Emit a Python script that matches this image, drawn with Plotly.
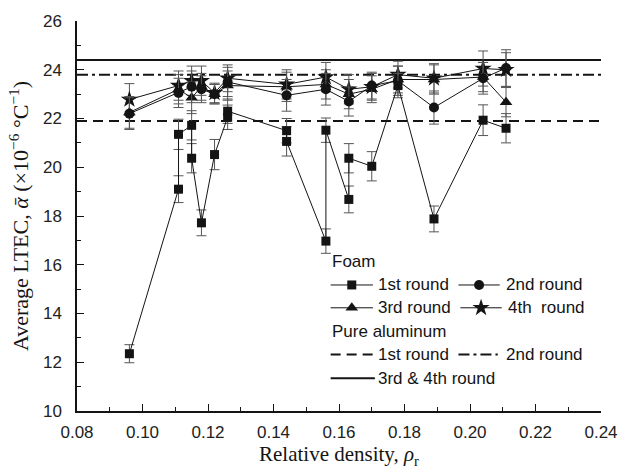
import plotly.graph_objects as go

# ---------------- data ----------------
density_1st = [0.096, 0.111, 0.111, 0.115, 0.115, 0.118, 0.122, 0.126, 0.126, 0.144,
               0.144, 0.156, 0.156, 0.163, 0.163, 0.170, 0.178, 0.189, 0.204, 0.211]
ltec_1st = [12.35, 19.10, 21.35, 21.72, 20.37, 17.72, 20.52, 22.05, 22.30, 21.50,
            21.06, 16.97, 21.52, 18.68, 20.37, 20.04, 23.35, 17.88, 21.93, 21.60]
err_1st = [0.37, 0.55, 0.62, 0.60, 0.60, 0.53, 0.62, 0.50, 0.50, 0.50,
           0.60, 0.50, 0.50, 0.55, 0.60, 0.60, 0.50, 0.53, 0.63, 0.60]

density = [0.096, 0.111, 0.115, 0.118, 0.122, 0.126, 0.144, 0.156, 0.163, 0.170,
           0.178, 0.189, 0.204, 0.211]
ltec_2nd = [22.20, 23.05, 23.30, 23.20, 23.00, 23.50, 22.95, 23.20, 22.70, 23.35,
            23.55, 22.45, 23.65, 24.07]
err_2nd = [0.65, 0.60, 0.65, 0.55, 0.40, 0.60, 0.65, 0.65, 0.60, 0.55,
           0.60, 0.68, 0.65, 0.75]
ltec_3rd = [22.25, 23.20, 22.85, 23.30, 23.00, 23.35, 23.30, 23.40, 23.00, 23.20,
            23.60, 23.60, 23.70, 22.67]
err_3rd = [0.65, 0.60, 0.65, 0.55, 0.40, 0.60, 0.60, 0.60, 0.60, 0.55,
           0.55, 0.60, 0.60, 0.60]
ltec_4th = [22.78, 23.35, 23.55, 23.55, 23.05, 23.65, 23.40, 23.70, 23.20, 23.30,
            23.80, 23.65, 24.05, 24.00]
err_4th = [0.65, 0.60, 0.60, 0.60, 0.40, 0.55, 0.60, 0.60, 0.60, 0.55,
           0.55, 0.60, 0.72, 0.70]

pure_x = [0.08, 0.24]
pure_1st = 21.9
pure_2nd = 23.8
pure_34 = 24.4

x_ticks = [0.08, 0.10, 0.12, 0.14, 0.16, 0.18, 0.20, 0.22, 0.24]
y_ticks = [10, 12, 14, 16, 18, 20, 22, 24, 26]

# ---------------- styling ----------------
INK = "#141414"
ERR = "#555555"
SANS = "Liberation Sans, Arial, sans-serif"
SERIF = "Liberation Serif, Times New Roman, serif"

fig = go.Figure()

# Pure aluminium reference lines
fig.add_trace(go.Scatter(x=pure_x, y=[pure_1st] * 2, mode="lines",
                         line=dict(color=INK, width=2, dash="10px,6px"), showlegend=False))
fig.add_trace(go.Scatter(x=pure_x, y=[pure_2nd] * 2, mode="lines",
                         line=dict(color=INK, width=2, dash="11px,4px,3px,4px"), showlegend=False))
fig.add_trace(go.Scatter(x=pure_x, y=[pure_34] * 2, mode="lines",
                         line=dict(color=INK, width=2), showlegend=False))

def foam(x, y, e, symbol, size):
    return go.Scatter(
        x=x, y=y, mode="lines+markers",
        line=dict(color=INK, width=1),
        marker=dict(symbol=symbol, size=size, color=INK, line=dict(width=0)),
        error_y=dict(type="data", array=e, visible=True, color=ERR, thickness=1, width=5),
        showlegend=False)

fig.add_trace(foam(density, ltec_4th, err_4th, "star", 13))
fig.add_trace(foam(density, ltec_3rd, err_3rd, "triangle-up", 11))
fig.add_trace(foam(density, ltec_2nd, err_2nd, "circle", 10))
fig.add_trace(foam(density_1st, ltec_1st, err_1st, "square", 9))

# ---------------- manual legend (pixel overlay axes) ----------------
def sample(x0, x1, y, dash=None, symbol=None, size=10, width=1):
    fig.add_trace(go.Scatter(x=[x0, x1], y=[y, y], mode="lines", xaxis="x2", yaxis="y2",
                             line=dict(color=INK, width=width, dash=dash),
                             showlegend=False, hoverinfo="skip"))
    if symbol:
        fig.add_trace(go.Scatter(x=[(x0 + x1) / 2], y=[y], mode="markers", xaxis="x2", yaxis="y2",
                                 marker=dict(symbol=symbol, size=size, color=INK, line=dict(width=0)),
                                 showlegend=False, hoverinfo="skip"))

def label(x, y, text):
    fig.add_annotation(x=x, y=y, xref="x2", yref="y2", text=text, showarrow=False,
                       xanchor="left", yanchor="middle",
                       font=dict(family=SANS, size=17, color=INK))

r1, r2, r3, r4 = 287, 310, 357, 381
sample(335, 378, r1, symbol="square", size=9)
sample(465, 507, r1, symbol="circle", size=10)
sample(335, 378, r2, symbol="triangle-up", size=11)
sample(467, 509, r2, symbol="star", size=13)
sample(335, 378, r3, dash="10px,6px", width=2)
sample(465, 505, r3, dash="11px,4px,3px,4px", width=2)
sample(335, 380, r4, width=2)

label(334, 263, "Foam")
label(381, r1, "1st round")
label(511, r1, "2nd round")
label(381, r2, "3rd round")
label(513, r2, "4th  round")
label(334, 334, "Pure aluminum")
label(381, r3, "1st round")
label(511, r3, "2nd round")
label(381, r4, "3rd &amp; 4th round")

axis_common = dict(
    showline=True, linecolor=INK, linewidth=1.5, showgrid=False, zeroline=False,
    ticks="inside", ticklen=7, tickwidth=1, tickcolor=INK,
    tickfont=dict(family=SANS, size=17, color="#222"),
)

fig.update_layout(
    width=630, height=473,
    margin=dict(l=77, r=20, t=21, b=59),
    paper_bgcolor="white", plot_bgcolor="white",
    showlegend=False,
    xaxis=dict(range=[0.08, 0.24], tickvals=x_ticks, tickformat=".2f",
               minor=dict(ticks="inside", ticklen=4, dtick=0.01, tick0=0.08, tickcolor=INK),
               ticklabelstandoff=5,
               title=dict(text="Relative density, <i>ρ</i><sub>r</sub>",
                          font=dict(family=SERIF, size=21, color=INK), standoff=4),
               **axis_common),
    yaxis=dict(range=[10, 26], tickvals=y_ticks,
               minor=dict(ticks="inside", ticklen=4, dtick=1, tick0=10, tickcolor=INK),
               ticklabelstandoff=10,
               title=dict(text="Average LTEC, <i>ᾱ</i> (×10<sup>−6</sup> °C<sup>−1</sup>)",
                          font=dict(family=SERIF, size=22, color=INK), standoff=8),
               **axis_common),
    xaxis2=dict(overlaying="x", range=[77, 610], visible=False, anchor="y2"),
    yaxis2=dict(overlaying="y", range=[414, 21], visible=False, anchor="x2"),
)

fig.write_html("out.html")
